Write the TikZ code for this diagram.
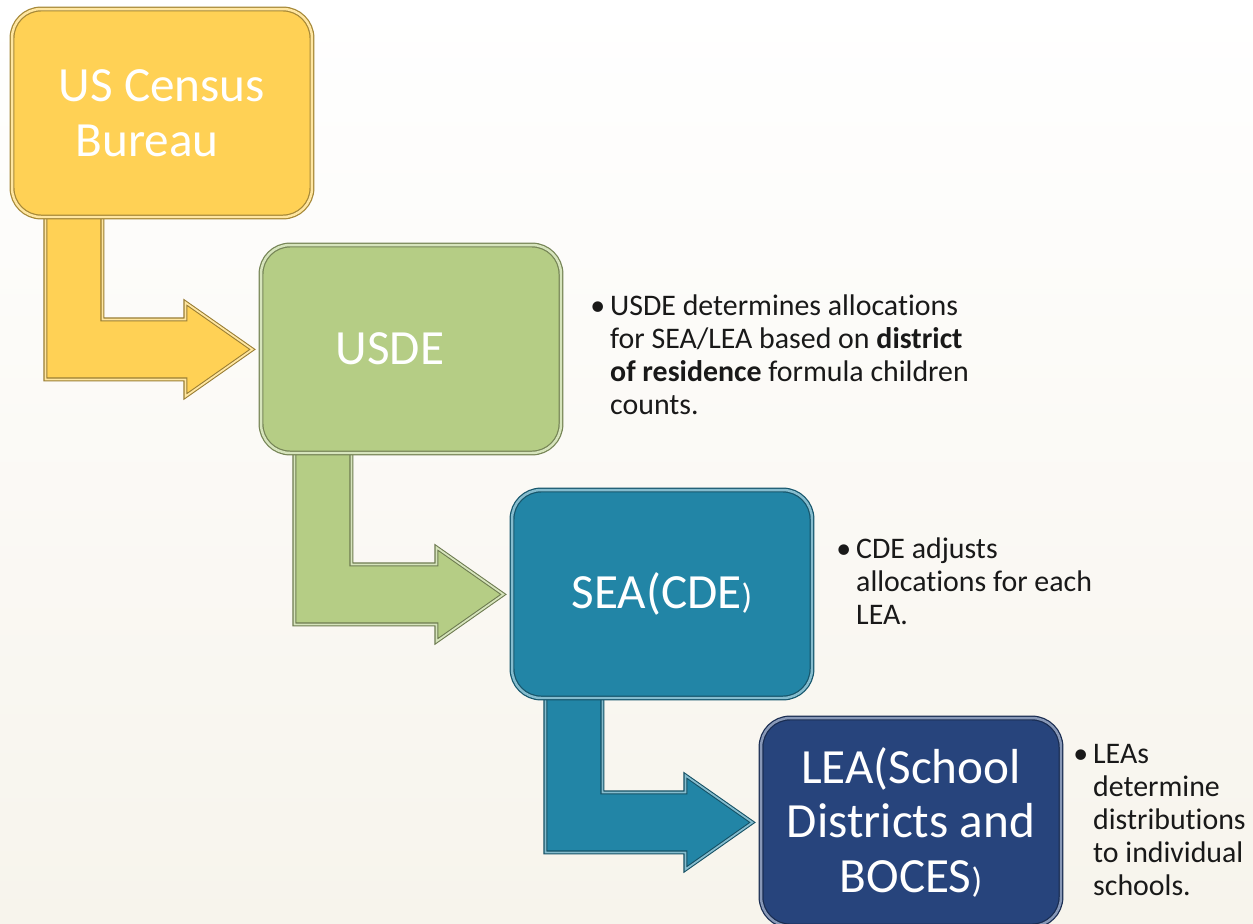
\documentclass[tikz,border=0pt]{standalone}
\usepackage{fontspec}
\setmainfont{Carlito}[Ligatures=NoCommon]
\usetikzlibrary{calc,backgrounds}

\definecolor{censusyellow}{HTML}{FFD155}
\definecolor{usdegreen}{HTML}{B5CD85}
\definecolor{seateal}{HTML}{2285A6}
\definecolor{leanavy}{HTML}{27447C}
\definecolor{pagebeige}{HTML}{F7F4EC}

\begin{document}
\begin{tikzpicture}[x=0.02cm,y=-0.02cm,
    box/.style={rectangle,rounded corners=0.58cm,minimum width=6cm,minimum height=4.16cm,
        fill=#1,draw=#1!65!black,double=#1!55!white,double distance=1.4pt,line width=0.7pt,
        text=white,align=center,font=\fontsize{28}{31}\selectfont},
    note/.style={anchor=base west,align=left,inner sep=0pt,text=black!90,
        font=\fontsize{17}{18.8}\selectfont},
    bent/.style={fill=#1,draw=#1!60!black,double=#1!55!white,double distance=1pt,line width=0.6pt,line join=miter}]
            \begin{scope}[on background layer]
            \shade[top color=white,bottom color=pagebeige] (0,0) rectangle (1253,923);
            \end{scope}
            \useasboundingbox (0,0) rectangle (1253,923);

            \node[box=censusyellow] (census) at (162,113) {US Census\\Bureau\hspace*{17pt}};
            \node[box=usdegreen] (usde) at (411,349) {USDE\hspace*{24pt}};
            \node[box=seateal] (sea) at (662,594) {SEA(CDE{\fontsize{20}{20}\selectfont )}};
            \node[box=leanavy] (lea) at (911,822) {LEA(School\\Districts and\\BOCES{\fontsize{20}{20}\selectfont )}};

            \begin{scope}[on background layer]
            \foreach \from/\to/\col in {census/usde/censusyellow,usde/sea/usdegreen,sea/lea/seateal}
                \draw[bent=\col] ($(\from.south west)+(34,-4)$) -- ($(\from.south west |- \to.north)+(34,135)$)
                    -- ($(\to.north west)+(-75,135)$) -- ($(\to.north west)+(-75,152)$)
                    -- ($(\to.north west)+(-8,105)$) -- ($(\to.north west)+(-75,58)$)
                    -- ($(\to.north west)+(-75,75)$) -- ($(\from.south west |- \to.north)+(91,75)$)
                    -- ($(\from.south west)+(91,-4)$) -- cycle;
            \end{scope}

            \node[note] (usdenote) at (590,315) {\makebox[11.3pt][l]{\textbullet}\begin{tabular}[t]{@{}l@{}}
                USDE determines allocations\\
                for SEA/LEA based on \textbf{district}\\
                \textbf{of residence} formula children\\
                counts.\end{tabular}};
            \node[note] (seanote) at (836,558) {\makebox[11.3pt][l]{\textbullet}\begin{tabular}[t]{@{}l@{}}
                CDE adjusts\\
                allocations for each\\
                LEA.\end{tabular}};
            \node[note] (leanote) at (1073,763) {\makebox[11.3pt][l]{\textbullet}\begin{tabular}[t]{@{}l@{}}
                LEAs\\
                determine\\
                distributions\\
                to individual\\
                schools.\end{tabular}};
\end{tikzpicture}
\end{document}
